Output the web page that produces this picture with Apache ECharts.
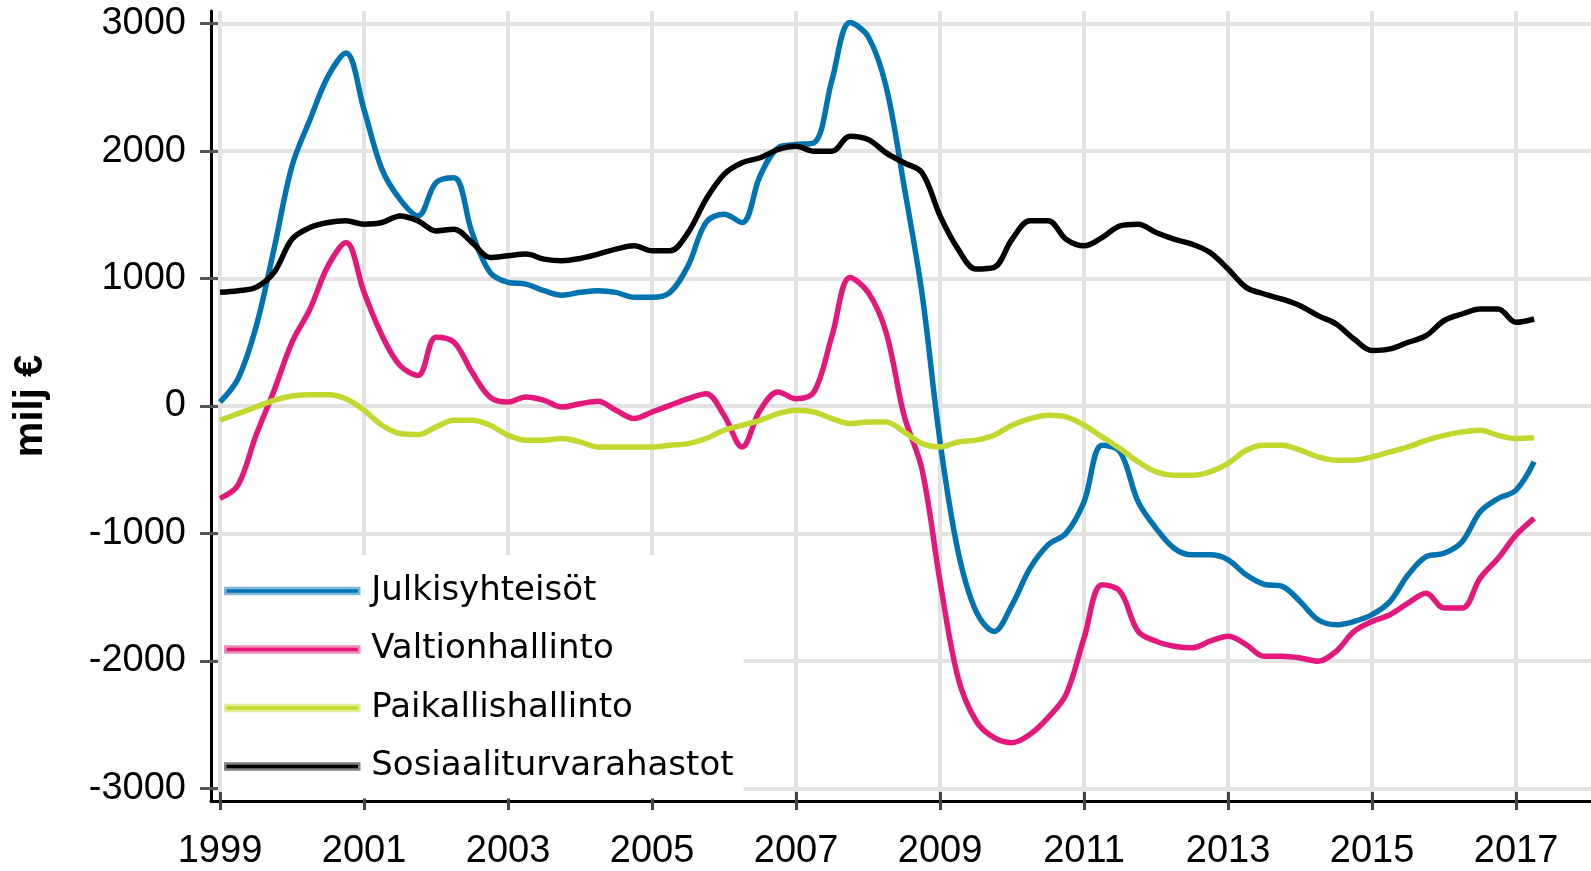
<!DOCTYPE html>
<html>
<head>
<meta charset="utf-8">
<script src="https://cdn.jsdelivr.net/npm/echarts@6/dist/echarts.min.js"></script>
<style>
  html, body { margin: 0; padding: 0; background: #fff; }
  #chart { width: 1591px; height: 871px; }
</style>
</head>
<body>
<div id="chart"></div>
<script>
// neljännesvuosittain 1999 Q1 - 2017 Q2
const startYear = 1999;
const yearTicks = [1999, 2001, 2003, 2005, 2007, 2009, 2011, 2013, 2015, 2017];
const valueTicks = [-3000, -2000, -1000, 0, 1000, 2000, 3000];
const seriesNames = ['Julkisyhteisöt', 'Valtionhallinto', 'Paikallishallinto', 'Sosiaaliturvarahastot'];

const julkisyhteisot = [
  30, 214, 620, 1231, 1883, 2248, 2587, 2770, 2326, 1857, 1622, 1492, 1753, 1792, 1361, 1048,
  970, 957, 905, 870, 892, 905, 892, 853, 853, 892, 1100, 1440, 1505, 1440, 1805, 2026,
  2052, 2065, 2561, 3010, 2900, 2509, 1726, 880, -280, -1142, -1612, -1769, -1560, -1273, -1090, -999,
  -751, -308, -360, -751, -960, -1116, -1168, -1168, -1207, -1325, -1400, -1416, -1534, -1678, -1717, -1691,
  -1638, -1534, -1325, -1182, -1156, -1065, -830, -726, -660, -438
];
const valtionhallinto = [
  -725, -621, -230, 120, 500, 761, 1100, 1283, 892, 553, 318, 240, 540, 500, 266, 70,
  31, 70, 44, -8, 18, 37, -34, -99, -47, 5, 57, 96, -73, -321, -34, 110,
  57, 110, 553, 1009, 892, 579, -73, -500, -1377, -2133, -2472, -2603, -2642, -2577, -2446, -2264,
  -1820, -1403, -1455, -1768, -1846, -1885, -1898, -1846, -1807, -1872, -1964, -1964, -1977, -2003, -1925, -1769,
  -1691, -1638, -1547, -1469, -1586, -1586, -1351, -1195, -1012, -882
];
const paikallishallinto = [
  -112, -60, -8, 44, 78, 89, 89, 57, -34, -151, -216, -224, -164, -112, -112, -151,
  -229, -268, -268, -255, -282, -321, -321, -321, -321, -308, -295, -255, -190, -151, -112, -60,
  -34, -47, -99, -138, -125, -125, -203, -295, -321, -282, -268, -229, -151, -99, -73, -86,
  -151, -242, -334, -438, -517, -543, -543, -517, -451, -347, -308, -308, -347, -399, -425, -425,
  -399, -360, -321, -269, -230, -203, -190, -230, -256, -250
];
const sosiaaliturvarahastot = [
  892, 905, 931, 1048, 1309, 1400, 1440, 1453, 1427, 1440, 1492, 1453, 1374, 1387, 1283, 1166,
  1179, 1192, 1153, 1140, 1158, 1192, 1231, 1257, 1218, 1218, 1361, 1622, 1818, 1909, 1948, 2013,
  2039, 2000, 2000, 2118, 2092, 1987, 1909, 1831, 1492, 1231, 1075, 1088, 1309, 1453, 1453, 1309,
  1257, 1322, 1414, 1427, 1361, 1309, 1270, 1205, 1075, 931, 879, 839, 787, 709, 644, 526,
  435, 448, 500, 552, 670, 722, 761, 761, 657, 683
];

const COLORS = ['#0073b0', '#e4177b', '#c3d82f', '#000000'];
const LEGEND_BORDER = ['#80b9d8', '#f08bbd', '#e1ec97', '#808080'];
const allSeries = [julkisyhteisot, valtionhallinto, paikallishallinto, sosiaaliturvarahastot];

function toPoints(values) {
  return values.map((v, i) => [startYear + i / 4, v]);
}

const chart = echarts.init(document.getElementById('chart'));

const labelFont = { color: '#000', fontSize: 38, fontFamily: 'Liberation Sans, Arial, sans-serif' };
const xRange = { min: 1998.875, max: 2018.04 };
const yRange = { min: -3100, max: 3100 };

chart.setOption({
  animation: false,
  backgroundColor: '#fff',
  grid: { left: 211, right: 0, top: 11, bottom: 67 },
  legend: {
    orient: 'vertical',
    left: 222,
    top: 555,
    width: 515,
    backgroundColor: '#fff',
    padding: [16, 10, 12, 2],
    itemWidth: 134,
    itemHeight: 6,
    itemGap: 18.5,
    icon: 'rect',
    selectedMode: false,
    textStyle: {
      color: '#000',
      fontSize: 34,
      fontFamily: 'DejaVu Sans, sans-serif',
      lineHeight: 40,
      padding: [0, 0, 0, 7]
    },
    data: seriesNames.map((name, i) => ({
      name: name,
      itemStyle: { color: COLORS[i], borderColor: LEGEND_BORDER[i], borderWidth: 2.5 }
    }))
  },
  xAxis: [
    {
      type: 'value',
      min: xRange.min, max: xRange.max,
      axisLine: { onZero: false, lineStyle: { color: '#000', width: 3 } },
      axisTick: { customValues: yearTicks, length: 9, lineStyle: { color: '#444', width: 3 } },
      axisLabel: Object.assign({ customValues: yearTicks, margin: 32, formatter: v => String(v) }, labelFont),
      splitLine: { show: true, lineStyle: { color: '#e3e3e3', width: 4 } }
    },
    {
      type: 'value',
      position: 'bottom',
      min: xRange.min, max: xRange.max,
      axisLine: { show: false, onZero: false },
      axisTick: { inside: true, customValues: yearTicks, length: 9, lineStyle: { color: '#444', width: 3 } },
      axisLabel: { show: false },
      splitLine: { show: false }
    }
  ],
  yAxis: [
    {
      type: 'value',
      min: yRange.min, max: yRange.max,
      name: 'milj €',
      nameLocation: 'middle',
      nameRotate: 90,
      nameGap: 160,
      nameTextStyle: { color: '#000', fontSize: 40, fontWeight: 'bold', fontFamily: 'Liberation Sans, Arial, sans-serif' },
      axisLine: { show: true, onZero: false, lineStyle: { color: '#000', width: 3 } },
      axisTick: { show: true, customValues: valueTicks, length: 11, lineStyle: { color: '#555', width: 3 } },
      axisLabel: Object.assign({ customValues: valueTicks, margin: 25, formatter: v => String(v) }, labelFont),
      splitLine: { show: true, lineStyle: { color: '#e3e3e3', width: 4 } }
    },
    {
      type: 'value',
      position: 'left',
      min: yRange.min, max: yRange.max,
      axisLine: { show: false, onZero: false },
      axisTick: { show: true, inside: true, customValues: valueTicks, length: 7, lineStyle: { color: '#555', width: 3 } },
      axisLabel: { show: false },
      splitLine: { show: false }
    }
  ],
  series: allSeries.map((values, i) => ({
    name: seriesNames[i],
    type: 'line',
    data: toPoints(values),
    smooth: 0.35,
    symbol: 'none',
    lineStyle: { color: COLORS[i], width: 5.5 },
    itemStyle: { color: COLORS[i] },
    z: 2
  }))
});
</script>
</body>
</html>
